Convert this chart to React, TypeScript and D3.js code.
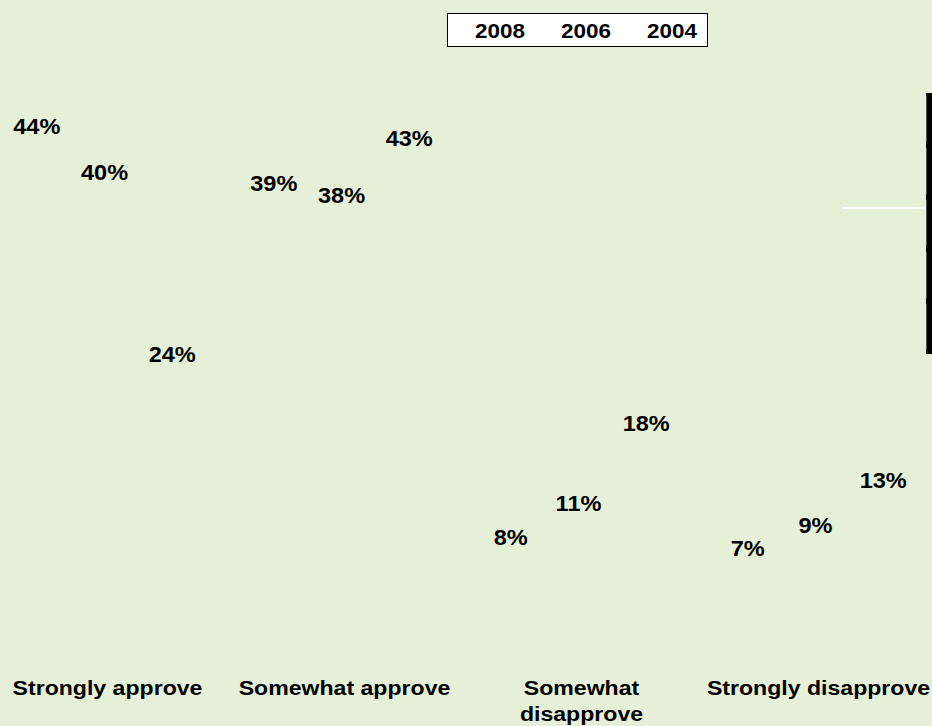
import React, { useEffect, useRef } from "react";
import * as d3 from "d3";

const categories = ["Strongly approve", "Somewhat approve", "Somewhat disapprove", "Strongly disapprove"];
const categoryLines = [["Strongly approve"], ["Somewhat approve"], ["Somewhat", "disapprove"], ["Strongly disapprove"]];
const seriesNames = ["2008", "2006", "2004"];
const values2008 = [44, 39, 8, 7];
const values2006 = [40, 38, 11, 9];
const values2004 = [24, 43, 18, 13];
const seriesValues = [values2008, values2006, values2004];

const W = 932;
const H = 726;
const BG = "#e6f0d8";
const FONT = "'Liberation Sans', Arial, Helvetica, sans-serif";

export default function App() {
  const ref = useRef<SVGSVGElement>(null);

  useEffect(() => {
    const svg = d3.select(ref.current);
    svg.selectAll("*").remove();

    svg.append("rect").attr("width", W).attr("height", H).attr("fill", BG);

    const x0 = d3.scaleBand<string>().domain(categories).range([-14, 934]).paddingInner(0).paddingOuter(0);
    const x1 = d3
      .scaleBand<string>()
      .domain(seriesNames)
      .range([0, x0.bandwidth()])
      .paddingInner(0)
      .paddingOuter(0.25);
    const y = d3.scaleLinear().domain([0, 50]).range([640, 70]);

    const rows = categories.map((c, i) => ({
      cat: c,
      vals: seriesNames.map((s, j) => ({ s, v: seriesValues[j][i] })),
    }));

    const g = svg.append("g");
    const grp = g
      .selectAll("g.grp")
      .data(rows)
      .join("g")
      .attr("class", "grp")
      .attr("transform", (d) => `translate(${x0(d.cat)},0)`);

    // bars (invisible in the reference: same colour as the plot background)
    grp
      .selectAll("rect")
      .data((d) => d.vals)
      .join("rect")
      .attr("x", (d) => x1(d.s)! + x1.bandwidth() * 0.1)
      .attr("width", x1.bandwidth() * 0.8)
      .attr("y", (d) => y(d.v))
      .attr("height", (d) => y(0) - y(d.v))
      .attr("fill", BG);

    grp
      .selectAll("text")
      .data((d) => d.vals)
      .join("text")
      .attr("transform", (d) => `translate(${x1(d.s)! + x1.bandwidth() / 2},${y(d.v) - 4}) scale(1.07,1)`)
      .attr("text-anchor", "middle")
      .attr("font-family", FONT)
      .attr("font-weight", "bold")
      .attr("font-size", 22)
      .attr("fill", "#000")
      .text((d) => `${d.v}%`);

    // category labels
    const cl = svg
      .append("g")
      .selectAll("text")
      .data(categories)
      .join("text")
      .attr("transform", (d) => `translate(${x0(d)! + x0.bandwidth() / 2 + 3},695) scale(1.1,1)`)
      .attr("text-anchor", "middle")
      .attr("font-family", FONT)
      .attr("font-weight", "bold")
      .attr("font-size", 21);
    cl.selectAll("tspan")
      .data((d, i) => categoryLines[i])
      .join("tspan")
      .attr("x", 0)
      .attr("dy", (d, i) => (i === 0 ? 0 : 26))
      .text((d) => d);

    // legend
    const lg = svg.append("g");
    lg.append("rect")
      .attr("x", 447.5)
      .attr("y", 13.5)
      .attr("width", 260)
      .attr("height", 33)
      .attr("fill", "#fff")
      .attr("stroke", "#000")
      .attr("stroke-width", 1);
    const lx = d3.scalePoint<string>().domain(seriesNames).range([475, 647]);
    lg.selectAll("text")
      .data(seriesNames)
      .join("text")
      .attr("transform", (d) => `translate(${lx(d)},38) scale(1.07,1)`)
      .attr("font-family", FONT)
      .attr("font-weight", "bold")
      .attr("font-size", 21)
      .text((d) => d);

    // right-edge artefacts
    svg.append("rect").attr("x", 842).attr("y", 207).attr("width", 84).attr("height", 2).attr("fill", "#fff");
    svg.append("rect").attr("x", 926).attr("y", 93).attr("width", 6).attr("height", 261).attr("fill", "#000");
    const ticks = [93, 145, 197, 249, 301, 353];
    svg
      .append("g")
      .selectAll("rect")
      .data(ticks.slice(0, -1))
      .join("rect")
      .attr("x", 926)
      .attr("y", (d) => d + 3)
      .attr("width", 1)
      .attr("height", 46)
      .attr("fill", "#555");
  }, []);

  return (
    <svg
      ref={ref}
      width={W}
      height={H}
      style={{ position: "absolute", left: 0, top: 0, display: "block" }}
    />
  );
}
